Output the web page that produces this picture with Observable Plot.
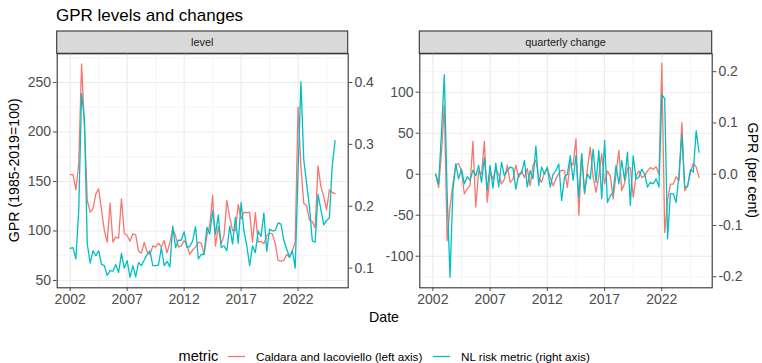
<!DOCTYPE html>
<html><head><meta charset="utf-8">
<script src="https://cdn.jsdelivr.net/npm/d3@7"></script>
<script src="https://cdn.jsdelivr.net/npm/@observablehq/plot@0.6"></script>
<style>
body{margin:0;background:#fff;}
#root{position:relative;width:762px;height:363px;overflow:hidden;background:#fff;font-family:"Liberation Sans",Arial,sans-serif;}
#root > svg{position:absolute;top:0;}
</style></head><body>
<div id="root"></div>
<script>
// ---- data (quarterly, first quarter = 2002Q1) ----
const firstYear = 2002;
const caldaraLevel = [
 157, 157, 141.6, 167.8, 268.9, 205, 130.8, 119, 122.4, 137.5,
 142.6, 120.7, 100.5, 88.7, 128, 88.7, 93.8, 92.8, 132.5, 97.8,
 95.5, 89.7, 97.1, 96.1, 79.6, 77.6, 88.4, 79, 76.3, 85,
 83.7, 87.7, 83.7, 90.4, 77.9, 88.4, 101.9, 95.1, 83.7, 85,
 90.4, 85.4, 76.3, 81, 83.7, 88.7, 87.7, 76.3, 95.5, 105.6,
 135.9, 84.7, 104.5, 87, 95.5, 130.8, 114, 100.5, 100.5, 126.8,
 112.3, 119, 118.4, 119, 88.7, 118.4, 88.7, 89.4, 87, 95.5,
 97.8, 97.1, 87, 70.2, 69.5, 70.2, 76.3, 73.6, 80.3, 88.7,
 225, 165, 128, 125.5, 111, 109.6, 103, 165.8, 145, 135,
 121.4, 141.6, 139, 137.7
];
const nlLevel = [
 0.132, 0.133, 0.115, 0.193, 0.382, 0.341, 0.139, 0.108, 0.128, 0.120,
 0.128, 0.106, 0.104, 0.088, 0.096, 0.095, 0.106, 0.093, 0.124, 0.100,
 0.112, 0.085, 0.104, 0.086, 0.109, 0.104, 0.113, 0.122, 0.128, 0.104,
 0.104, 0.105, 0.133, 0.104, 0.111, 0.102, 0.168, 0.133, 0.145, 0.145,
 0.159, 0.133, 0.135, 0.144, 0.167, 0.115, 0.122, 0.122, 0.166, 0.155,
 0.193, 0.155, 0.186, 0.133, 0.136, 0.128, 0.168, 0.139, 0.182, 0.140,
 0.206, 0.160, 0.136, 0.104, 0.136, 0.125, 0.160, 0.151, 0.189, 0.127,
 0.163, 0.160, 0.161, 0.173, 0.171, 0.145, 0.131, 0.117, 0.128, 0.100,
 0.256, 0.401, 0.275, 0.237, 0.199, 0.144, 0.142, 0.219, 0.195, 0.170,
 0.177, 0.181, 0.266, 0.306
];
const caldaraChange = [
 null, 0, -16, 25, 84, -81, -40, -12, 11, 13,
 4, -24, -18, -14, 40, -40, 4, 0, 40, -34,
 2, -6, 6, 0, -12, -6, 11, -10, -6, 11,
 -4, 4, -4, 7, -14, 11, 17, -4, -10, 2,
 7, -4, -14, -6, 1, 5, 4, -16, 15, 11,
 43, -50, 24, -24, 7, 33, -4, -22, -2, 25,
 -12, 4, -2, -30, 0, 29, -20, -11, 7, 8,
 -28, -2, 4, -4, -2, 4, 8, 6, 9, 0,
 135, -71, -32, -12, -12, -3, -8, 63, -20, -14,
 2, 13, 9, -4
];
const nlChange = [
 null, 0, -0.019, 0.079, 0.194, -0.040, -0.201, -0.032, 0.020, -0.009,
 0.010, -0.019, -0.005, -0.012, 0.008, -0.003, 0.017, -0.016, 0.032, -0.031,
 0.017, -0.027, 0.021, -0.025, 0.023, -0.003, 0.007, 0.014, 0.012, -0.029,
 0, 0.002, 0.027, -0.025, 0.007, -0.009, 0.055, -0.022, 0.014, 0,
 0.014, -0.025, 0, 0.007, 0.020, -0.051, -0.006, 0, 0.036, -0.012,
 0.036, -0.045, 0.040, -0.035, 0, -0.009, 0.049, -0.016, 0.046, -0.048,
 0.066, -0.055, -0.042, -0.035, 0.017, -0.019, 0.027, -0.012, 0.043, -0.061,
 0.036, -0.009, -0.006, 0.010, 0, -0.025, -0.016, -0.019, -0.009, -0.025,
 0.156, 0.147, -0.126, -0.038, -0.038, -0.055, 0, 0.077, -0.025, -0.024,
 0.009, 0.004, 0.085, 0.043
];
const xTicks = [2002, 2007, 2012, 2017, 2022];
const xMinor = [2004.5, 2009.5, 2014.5, 2019.5, 2024.5];
const levelLeftTicks = [50, 100, 150, 200, 250];
const levelLeftMinor = [75, 125, 175, 225, 275];
const levelRightTicks = [0.1, 0.2, 0.3, 0.4];
const changeLeftTicks = [-100, -50, 0, 50, 100];
const changeLeftMinor = [-125, -75, -25, 25, 75, 125];
const changeRightTicks = [-0.2, -0.1, 0, 0.1, 0.2];
const secFactor = 625; // secondary axis: right = left / 625
const facetLabels = ["level", "quarterly change"];
const seriesNames = ["Caldara and Iacoviello (left axis)", "NL risk metric (right axis)"];
const seriesColors = ["#F8766D", "#00BFC4"];
const titleText = "GPR levels and changes";
const yLeftTitle = "GPR (1985-2019=100)";
const yRightTitle = "GPR (per cent)";
const xTitle = "Date";
const legendTitle = "metric";

// ---- build rows ----
const xs = caldaraLevel.map((_, i) => firstYear + i / 4);
const levelRows = xs.map((x, i) => ({x, a: caldaraLevel[i], b: nlLevel[i]}));
const changeRows = xs.map((x, i) => ({x, a: caldaraChange[i], b: nlChange[i]}));

const FONT = "'Liberation Sans', Arial, sans-serif";
const H = 363, TOP = 53.3, BOTTOM = 287.3;
const xDomain = [2000.86, 2026.4];
const LW = 1.3;

function panel({rows, width, ml, mr, yDomain, leftTicks, leftMinor, rightTicks}) {
  const grid = {stroke: "#EBEBEB", strokeOpacity: 1};
  const common = {
    width, height: H,
    marginTop: TOP, marginBottom: H - BOTTOM, marginLeft: ml, marginRight: mr,
    style: {background: "transparent", fontFamily: FONT, fontSize: "14px", color: "#4D4D4D", overflow: "visible"}
  };
  const main = Plot.plot({
    ...common,
    x: {domain: xDomain, ticks: xTicks, tickSize: 3.7, tickPadding: 2.5, tickFormat: d => String(d), label: null},
    y: {domain: yDomain, ticks: leftTicks, tickSize: 3.7, tickPadding: 2.5, tickFormat: d => String(d), label: null},
    marks: [
      Plot.ruleX(xMinor, {...grid, strokeWidth: 0.55}),
      Plot.ruleY(leftMinor, {...grid, strokeWidth: 0.55}),
      Plot.ruleX(xTicks, {...grid, strokeWidth: 1.1}),
      Plot.ruleY(leftTicks, {...grid, strokeWidth: 1.1}),
      Plot.line(rows, {x: "x", y: d => d.a == null ? NaN : d.a, stroke: seriesColors[0], strokeWidth: LW}),
      Plot.frame({stroke: "#333333", strokeWidth: 1.1})
    ]
  });
  const sec = Plot.plot({
    ...common,
    x: {domain: xDomain, axis: null},
    y: {domain: yDomain.map(v => v / secFactor), axis: "right", ticks: rightTicks, tickSize: 3.7, tickPadding: 2.5,
        tickFormat: d => d.toFixed(1), label: null},
    marks: [
      Plot.line(rows, {x: "x", y: d => d.b == null ? NaN : d.b, stroke: seriesColors[1], strokeWidth: LW})
    ]
  });
  return [main, sec];
}

const root = document.getElementById("root");

// overlay svg for texts, strips, legend
const ov = d3.select(root).append("svg").attr("width", 762).attr("height", H)
  .style("left", "0px").style("font-family", FONT);
ov.append("text").attr("x", 56).attr("y", 21).attr("font-size", 17).attr("fill", "#000").text(titleText);
const strips = [[56.7, 347.7], [419.3, 711.7]];
strips.forEach(([x0, x1], k) => {
  ov.append("rect").attr("x", x0).attr("y", 31).attr("width", x1 - x0).attr("height", TOP - 31)
    .attr("fill", "#D9D9D9").attr("stroke", "#333333").attr("stroke-width", 1.1);
  ov.append("text").attr("x", (x0 + x1) / 2).attr("y", 45.5).attr("text-anchor", "middle")
    .attr("font-size", 10.8).attr("fill", "#1A1A1A").text(facetLabels[k]);
});
ov.append("text").attr("transform", `translate(18.5,${(TOP + BOTTOM) / 2}) rotate(-90)`)
  .attr("text-anchor", "middle").attr("font-size", 14.2).attr("fill", "#000").text(yLeftTitle);
ov.append("text").attr("transform", `translate(747.5,${(TOP + BOTTOM) / 2}) rotate(90)`)
  .attr("text-anchor", "middle").attr("font-size", 14.2).attr("fill", "#000").text(yRightTitle);
ov.append("text").attr("x", 384).attr("y", 322).attr("text-anchor", "middle")
  .attr("font-size", 14.2).attr("fill", "#000").text(xTitle);
// legend
ov.append("text").attr("x", 178.5).attr("y", 360.5).attr("font-size", 14.6).attr("fill", "#000").text(legendTitle);
const legX = [[228, 256], [433, 461]];
legX.forEach(([sx, tx], k) => {
  ov.append("line").attr("x1", sx).attr("x2", sx + 17).attr("y1", 356.5).attr("y2", 356.5)
    .attr("stroke", seriesColors[k]).attr("stroke-width", LW);
  ov.append("text").attr("x", tx).attr("y", 360.5).attr("font-size", 11.7).attr("fill", "#000").text(seriesNames[k]);
});

// panels
const place = (svg, left) => { svg.style.position = "absolute"; svg.style.left = left + "px"; svg.style.top = "0px"; root.appendChild(svg); };
const [p1, p1s] = panel({rows: levelRows, width: 378, ml: 56.7, mr: 378 - 347.7,
  yDomain: [42.6, 279], leftTicks: levelLeftTicks, leftMinor: levelLeftMinor, rightTicks: levelRightTicks});
place(p1, 0); place(p1s, 0);
const [p2, p2s] = panel({rows: changeRows, width: 384, ml: 419.3 - 378, mr: 762 - 711.7,
  yDomain: [-138.5, 146.8], leftTicks: changeLeftTicks, leftMinor: changeLeftMinor, rightTicks: changeRightTicks});
place(p2, 378); place(p2s, 378);
</script>
</body></html>
